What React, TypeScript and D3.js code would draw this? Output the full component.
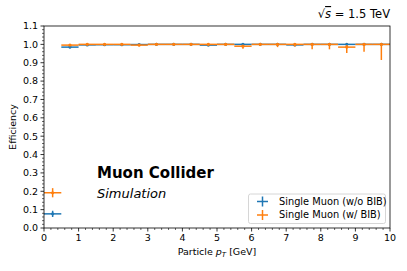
import React from "react";
import * as d3 from "d3";

const binCenters = [0.25, 0.75, 1.25, 1.75, 2.25, 2.75, 3.25, 3.75, 4.25, 4.75, 5.25, 5.75, 6.25, 6.75, 7.25, 7.75, 8.25, 8.75, 9.25, 9.75];
const binHalfWidth = 0.25;

const noBibEff = [0.077, 0.985, 0.997, 0.998, 0.998, 0.999, 1.0, 1.0, 1.0, 0.996, 1.0, 1.0, 1.0, 1.0, 0.997, 1.0, 1.0, 1.0, 1.0, 1.0];
const noBibErrLo = [0.017, 0.006, 0.003, 0.002, 0.002, 0.002, 0.002, 0.002, 0.002, 0.003, 0.002, 0.003, 0.002, 0.002, 0.003, 0.003, 0.003, 0.004, 0.004, 0.004];
const noBibErrHi = [0.017, 0.005, 0.002, 0.001, 0.001, 0.001, 0, 0, 0, 0.002, 0, 0, 0, 0, 0.002, 0, 0, 0, 0, 0];

const bibEff = [0.192, 0.996, 1.0, 1.0, 1.0, 0.996, 1.0, 1.0, 1.0, 1.0, 1.0, 0.99, 1.0, 1.0, 1.0, 1.0, 1.0, 0.985, 1.0, 1.0];
const bibErrLo = [0.025, 0.004, 0.004, 0.004, 0.004, 0.006, 0.004, 0.004, 0.005, 0.005, 0.006, 0.014, 0.008, 0.015, 0.012, 0.027, 0.027, 0.032, 0.04, 0.085];
const bibErrHi = [0.025, 0.003, 0, 0, 0, 0.003, 0, 0, 0, 0, 0, 0.007, 0, 0, 0, 0, 0, 0.012, 0, 0];

const xTicks = [0, 1, 2, 3, 4, 5, 6, 7, 8, 9, 10];
const yTicks = [0.0, 0.1, 0.2, 0.3, 0.4, 0.5, 0.6, 0.7, 0.8, 0.9, 1.0, 1.1];

const seriesNames = ["Single Muon (w/o BIB)", "Single Muon (w/ BIB)"];
const seriesColors = ["#1f77b4", "#ff7f0e"];

const W = 407, H = 271;
const L = 44, R = 390, T = 26, B = 228;
const font = "DejaVu Sans, sans-serif";

export default function App() {
  const x = d3.scaleLinear().domain([0, 10]).range([L, R]);
  const y = d3.scaleLinear().domain([0, 1.1]).range([B, T]);
  const xMinor = d3.range(0, 10.001, 0.2).filter((v) => Math.abs(v - Math.round(v)) > 1e-6);
  const yMinor = d3.range(0, 1.1001, 0.02).filter((v) => Math.abs(v * 10 - Math.round(v * 10)) > 1e-6);

  const series = [
    { eff: noBibEff, lo: noBibErrLo, hi: noBibErrHi, color: seriesColors[0] },
    { eff: bibEff, lo: bibErrLo, hi: bibErrHi, color: seriesColors[1] },
  ];

  return (
    <svg width={W} height={H} style={{ position: "absolute", left: 0, top: 0 }} fontFamily={font}>
      <rect x={0} y={0} width={W} height={H} fill="#fff" />
      <defs>
        <clipPath id="plot">
          <rect x={L} y={T} width={R - L} height={B - T} />
        </clipPath>
      </defs>
      <g clipPath="url(#plot)">
        {series.map((s, si) => (
          <g key={si} stroke={s.color} strokeWidth={1.5}>
            {binCenters.map((c, i) => (
              <g key={i}>
                <line x1={x(c - binHalfWidth)} x2={x(c + binHalfWidth)} y1={y(s.eff[i])} y2={y(s.eff[i])} />
                <line x1={x(c)} x2={x(c)} y1={y(s.eff[i] - s.lo[i])} y2={y(s.eff[i] + s.hi[i])} />
                <circle cx={x(c)} cy={y(s.eff[i])} r={1.6} fill={s.color} stroke="none" />
              </g>
            ))}
          </g>
        ))}
      </g>
      <rect x={L} y={T} width={R - L} height={B - T} fill="none" stroke="#000" strokeWidth={0.8} />
      {xTicks.map((t) => (
        <g key={"xt" + t}>
          <line x1={x(t)} x2={x(t)} y1={B} y2={B + 3.5} stroke="#000" strokeWidth={0.8} />
          <text x={x(t)} y={B + 13} fontSize={9.5} textAnchor="middle">{t}</text>
        </g>
      ))}
      {xMinor.map((t, i) => (
        <line key={"xm" + i} x1={x(t)} x2={x(t)} y1={B} y2={B + 2} stroke="#000" strokeWidth={0.6} />
      ))}
      {yTicks.map((t) => (
        <g key={"yt" + t}>
          <line x1={L - 3.5} x2={L} y1={y(t)} y2={y(t)} stroke="#000" strokeWidth={0.8} />
          <text x={L - 6} y={y(t) + 3.4} fontSize={9.5} textAnchor="end">{t.toFixed(1)}</text>
        </g>
      ))}
      {yMinor.map((t, i) => (
        <line key={"ym" + i} x1={L - 2} x2={L} y1={y(t)} y2={y(t)} stroke="#000" strokeWidth={0.6} />
      ))}
      <text x={217} y={255} fontSize={9.5} textAnchor="middle">
        Particle <tspan fontStyle="italic">p</tspan><tspan fontStyle="italic" fontSize={7} dy={2}>T</tspan><tspan dy={-2}> [GeV]</tspan>
      </text>
      <text transform={`translate(16,${(T + B) / 2}) rotate(-90)`} fontSize={9.5} textAnchor="middle">Efficiency</text>
      <text x={390} y={18} fontSize={11.5} textAnchor="end">
        <tspan>√</tspan><tspan fontStyle="italic" textDecoration="overline">s</tspan><tspan> = 1.5 TeV</tspan>
      </text>
      <text x={97} y={178} fontSize={15} fontWeight="bold">Muon Collider</text>
      <text x={97} y={198} fontSize={13} fontStyle="italic">Simulation</text>
      <rect x={248.5} y={194} width={137} height={29.5} rx={2} fill="#fff" fillOpacity={0.8} stroke="#ccc" strokeWidth={0.8} />
      {seriesNames.map((n, i) => {
        const ly = 201.5 + i * 13.5;
        return (
          <g key={n}>
            <line x1={257} x2={268} y1={ly} y2={ly} stroke={seriesColors[i]} strokeWidth={1.5} />
            <line x1={262.5} x2={262.5} y1={ly - 5} y2={ly + 5} stroke={seriesColors[i]} strokeWidth={1.5} />
            <text x={279} y={ly + 3.4} fontSize={9.8}>{n}</text>
          </g>
        );
      })}
    </svg>
  );
}
